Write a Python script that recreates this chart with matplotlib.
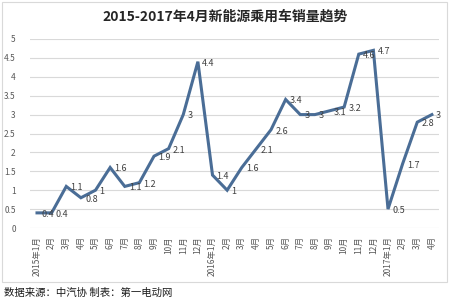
import matplotlib
matplotlib.use("Agg")
import matplotlib.pyplot as plt
from matplotlib.patches import Rectangle

plt.rcParams["font.family"] = ["Noto Sans CJK SC", "DejaVu Sans"]

# ---------------------------------------------------------------------
# Data — monthly NEV passenger car sales
# ---------------------------------------------------------------------
months = ["2015年1月", "2月", "3月", "4月", "5月", "6月", "7月", "8月",
          "9月", "10月", "11月", "12月",
          "2016年1月", "2月", "3月", "4月", "5月", "6月", "7月", "8月",
          "9月", "10月", "11月", "12月",
          "2017年1月", "2月", "3月", "4月"]
sales = [0.4, 0.4, 1.1, 0.8, 1, 1.6, 1.1, 1.2, 1.9, 2.1, 3, 4.4,
         1.4, 1, 1.6, 2.1, 2.6, 3.4, 3, 3, 3.1, 3.2, 4.6, 4.7,
         0.5, 1.7, 2.8, 3]
y_ticks = [0, 0.5, 1, 1.5, 2, 2.5, 3, 3.5, 4, 4.5, 5]
title = "2015-2017年4月新能源乘用车销量趋势"
source = "数据来源：中汽协 制表：第一电动网"

# ---------------------------------------------------------------------
# Figure
# ---------------------------------------------------------------------
fig = plt.figure(figsize=(4.5, 3), dpi=100)
fig.patches.append(Rectangle((0.004, 0.06), 0.99, 0.935, transform=fig.transFigure,
                             fill=False, edgecolor="#d9d9d9", linewidth=0.8))

ax = fig.add_axes([0.066, 0.24, 0.91, 0.63])
x = list(range(len(sales)))
ax.plot(x, sales, color="#4a6d96", linewidth=2.2, solid_joinstyle="miter")

# value labels sit just right of each point
for xi, v in zip(x, sales):
    ax.annotate(f"{v:g}", (xi, v), xytext=(3, -1), textcoords="offset points",
                fontsize=6.5, color="#404040", ha="left", va="center")

ax.set_xlim(-0.5, len(sales) - 0.5)
ax.set_ylim(0, 5)
ax.set_yticks(y_ticks)
ax.set_yticklabels([f"{t:g}" for t in y_ticks])
ax.set_xticks(x)
ax.set_xticklabels(months, rotation=90)
ax.tick_params(axis="both", length=0, labelsize=6, colors="#595959", pad=6)
ax.tick_params(axis="y", pad=10)
ax.grid(axis="y", color="#d9d9d9", linewidth=0.8)
ax.set_axisbelow(True)
for s in ax.spines.values():
    s.set_visible(False)

fig.text(0.5, 0.945, title, ha="center", va="center", fontsize=10,
         fontweight="bold", color="#262626")
fig.text(0.01, 0.025, source, ha="left", va="center", fontsize=7.5,
         color="#1a1a1a")

plt.savefig("out.png", dpi=100)
plt.close()
